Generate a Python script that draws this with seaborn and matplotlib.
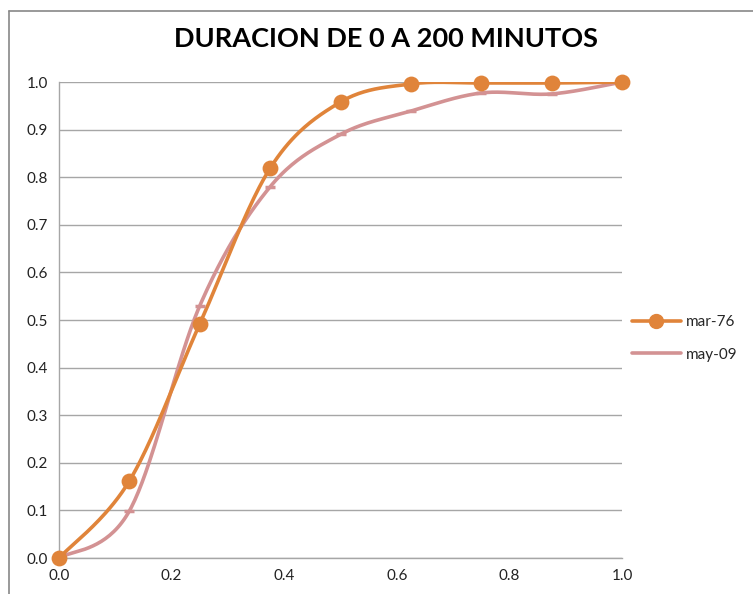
import numpy as np
import pandas as pd
import matplotlib
matplotlib.use("Agg")
import matplotlib.pyplot as plt
import seaborn as sns
from matplotlib.lines import Line2D

x_vals = [0.0, 0.125, 0.25, 0.375, 0.5, 0.625, 0.75, 0.875, 1.0]
mar76 = [0.0, 0.162, 0.492, 0.819, 0.958, 0.996, 0.998, 0.998, 1.0]
may09 = [0.0, 0.099, 0.53, 0.78, 0.89, 0.939, 0.977, 0.975, 1.0]
series_names = ["mar-76", "may-09"]
title = "DURACION DE 0 A 200 MINUTOS"
xticks = [0.0, 0.2, 0.4, 0.6, 0.8, 1.0]
yticks = [0.0, 0.1, 0.2, 0.3, 0.4, 0.5, 0.6, 0.7, 0.8, 0.9, 1.0]

C_ORANGE = "#E0843A"
C_PINK = "#D39293"


def smooth(xs, ys, n=40):
    # Excel-like smoothing: cubic Bezier with Catmull-Rom control points
    xs = np.asarray(xs, float); ys = np.asarray(ys, float)
    P = np.column_stack([xs, ys])
    out = []
    t = np.linspace(0, 1, n)
    for i in range(len(P) - 1):
        p0 = P[i - 1] if i > 0 else P[i]
        p1 = P[i]; p2 = P[i + 1]
        p3 = P[i + 2] if i + 2 < len(P) else P[i + 1]
        c1 = p1 + (p2 - p0) / 6.0
        c2 = p2 - (p3 - p1) / 6.0
        seg = ((1 - t) ** 3)[:, None] * p1 + (3 * (1 - t) ** 2 * t)[:, None] * c1 \
            + (3 * (1 - t) * t ** 2)[:, None] * c2 + (t ** 3)[:, None] * p2
        out.append(seg if i == 0 else seg[1:])
    S = np.vstack(out)
    return S[:, 0], S[:, 1]


sns.set_style("white")
plt.rcParams["font.family"] = ["Lato", "DejaVu Sans"]

fig = plt.figure(figsize=(7.53, 5.94), dpi=100)
ax = fig.add_axes([0.0784, 0.0606, 0.7477, 0.8013])

df = pd.DataFrame({"x": x_vals, "mar-76": mar76, "may-09": may09})

sx, sy = smooth(df["x"], df["may-09"])
sns.lineplot(x=sx, y=sy, ax=ax, color=C_PINK, lw=2.6, sort=False, estimator=None)
sns.scatterplot(x=df["x"], y=df["may-09"], ax=ax, marker="_", s=60, color=C_PINK,
                linewidth=2.5, zorder=4, clip_on=False)
sx, sy = smooth(df["x"], df["mar-76"])
sns.lineplot(x=sx, y=sy, ax=ax, color=C_ORANGE, lw=2.6, sort=False, estimator=None)
sns.scatterplot(x=df["x"], y=df["mar-76"], ax=ax, marker="o", s=130, color=C_ORANGE,
                edgecolor=C_ORANGE, linewidth=0, zorder=5, clip_on=False)

ax.set_xlim(0, 1)
ax.set_ylim(0, 1)
ax.set_xticks(xticks)
ax.set_yticks(yticks)
ax.set_xticklabels([f"{v:.1f}" for v in xticks])
ax.set_yticklabels([f"{v:.1f}" for v in yticks])
ax.yaxis.grid(True, color="#A6A6A6", lw=1)
ax.xaxis.grid(False)
for s in ["top", "right"]:
    ax.spines[s].set_visible(False)
for s in ["left", "bottom"]:
    ax.spines[s].set_color("#A6A6A6")
    ax.spines[s].set_linewidth(1)
ax.tick_params(axis="both", which="major", direction="out", length=5, width=1,
               color="#A6A6A6", labelsize=11, labelcolor="#222222", pad=3)
ax.set_xlabel(""); ax.set_ylabel("")

fig.suptitle(title, x=0.512, y=0.955, fontsize=19.5, fontweight="bold", color="#000000")

handles = [Line2D([0], [0], color=C_ORANGE, lw=2.6, marker="o", markersize=10),
           Line2D([0], [0], color=C_PINK, lw=2.6)]
fig.legend(handles, series_names, loc="center left", bbox_to_anchor=(0.821, 0.43),
           frameon=False, fontsize=11, handlelength=3.2, labelspacing=1.2,
           handletextpad=0.3)

# chart-area border (extends off the right and bottom edges)
fig.add_artist(Line2D([9 / 753, 9 / 753], [0, 1 - 11 / 594], transform=fig.transFigure,
                      color="#888888", lw=1.2))
fig.add_artist(Line2D([9 / 753, 1], [1 - 11 / 594, 1 - 11 / 594], transform=fig.transFigure,
                      color="#888888", lw=1.2))

fig.savefig("out.png", dpi=100)
